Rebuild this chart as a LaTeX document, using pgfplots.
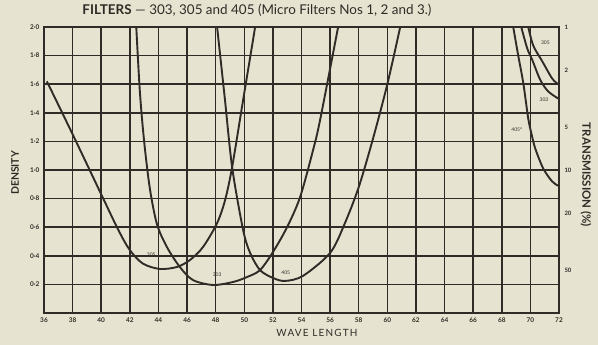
\documentclass[border=0pt]{standalone}
\usepackage{pgfplots}
\pgfplotsset{compat=1.18}
\usepackage{fontspec}
\setmainfont{Lato}
\definecolor{paper}{RGB}{231,227,209}
\definecolor{ink}{RGB}{48,43,38}
\tikzset{crv/.style={ink, line width=1.9bp, smooth, tension=0.5, mark=none}}
\begin{document}
\begin{tikzpicture}
\fill[paper] (0,0) rectangle (598bp,345bp);
\useasboundingbox (0,0) rectangle (598bp,345bp);
\begin{axis}[
  at={(44bp,32bp)}, anchor=south west,
  scale only axis, width=515bp, height=286bp,
  xmin=36, xmax=72, ymin=0, ymax=2,
  xtick={36,38,...,72},
  xticklabels={36,38,40,42,44,46,48,50,52,54,56,58,60,62,64,66,68,70,72},
  ytick={0.2,0.4,0.6,0.8,1.0,1.2,1.4,1.6,1.8,2.0},
  yticklabels={0·2,0·4,0·6,0·8,1·0,1·2,1·4,1·6,1·8,2·0},
  grid=major,
  major grid style={draw=ink, line width=1.5bp},
  axis line style={ink, line width=1.8bp},
  tick style={draw=none},
  ticklabel style={font=\fontsize{6.5}{7}\selectfont\bfseries, text=ink},
  xticklabel style={yshift=-1bp},
  yticklabel style={xshift=-1bp},
  clip mode=individual,
]
% 305
\addplot[crv] coordinates {(36.2,1.62) (38.0,1.25) (40.0,0.83) (41.2,0.58) (42.0,0.44) (42.92,0.345) (44.11,0.308) (45.30,0.322) (46.21,0.371) (47.12,0.462) (48.10,0.629) (48.66,0.79) (49.15,1.02) (49.92,1.49) (50.76,2.0)};
% 303
\addplot[crv] coordinates {(42.45,2.0) (42.7,1.55) (43.0,1.2) (43.4,0.87) (43.9,0.62) (44.60,0.46) (45.51,0.32) (46.42,0.23) (47.82,0.196) (49.22,0.217) (50.20,0.252) (51.10,0.30) (52.01,0.427) (52.99,0.60) (53.90,0.81) (54.81,1.14) (55.30,1.35) (56.56,2.0)};
% 405
\addplot[crv] coordinates {(48.10,2.0) (48.64,1.50) (49.15,1.02) (49.92,0.58) (50.41,0.42) (51.10,0.30) (52.01,0.245) (52.85,0.224) (54.11,0.26) (56.00,0.42) (57.0,0.62) (58.0,0.88) (59.0,1.22) (60.0,1.60) (60.9,2.0)};
% right side
\addplot[crv] coordinates {(68.80,2.0) (69.15,1.80) (69.50,1.61) (69.85,1.36) (70.06,1.26) (70.34,1.15) (70.90,1.01) (71.52,0.92) (71.94,0.89)};
\addplot[crv] coordinates {(69.36,2.0) (69.78,1.85) (70.13,1.77) (70.69,1.63) (71.24,1.55) (71.94,1.50)};
\addplot[crv] coordinates {(69.85,2.0) (70.20,1.87) (70.83,1.76) (71.52,1.64) (71.94,1.60)};
\node[font=\fontsize{5}{5}\selectfont, text=ink] at (axis cs:43.5,0.41) {305};
\node[font=\fontsize{5}{5}\selectfont, text=ink] at (axis cs:48.1,0.27) {303};
\node[font=\fontsize{5}{5}\selectfont, text=ink] at (axis cs:52.9,0.28) {405};
\node[font=\fontsize{5}{5}\selectfont, text=ink] at (axis cs:71.05,1.89) {305};
\node[font=\fontsize{5}{5}\selectfont, text=ink] at (axis cs:70.95,1.49) {303};
\node[font=\fontsize{5}{5}\selectfont, text=ink] at (axis cs:69.05,1.28) {405°};
\end{axis}
\begin{axis}[
  at={(44bp,32bp)}, anchor=south west,
  scale only axis, width=515bp, height=286bp,
  xmin=36, xmax=72, ymin=0, ymax=2,
  hide x axis, axis y line*=right,
  y axis line style={draw=none},
  tick style={draw=none},
  ytick={2,1.699,1.301,1,0.699,0.301},
  yticklabels={1,2,5,10,20,50},
  yticklabel style={font=\fontsize{6}{6}\selectfont\bfseries, text=ink, xshift=2bp},
]
\end{axis}
\node[text=ink, font=\fontsize{13.5}{14}\selectfont] at (257bp,335bp) {{\bfseries FILTERS} — 303, 305 and 405 (Micro Filters Nos 1, 2 and 3.)};
\node[text=ink, font=\fontsize{10}{11}\selectfont\addfontfeature{LetterSpace=12}] at (317bp,12bp) {WAVE LENGTH};
\node[text=ink, rotate=90, font=\fontsize{10.5}{11}\selectfont\bfseries] at (15bp,172bp) {DENSITY};
\node[text=ink, rotate=-90, font=\fontsize{11.5}{12}\selectfont\bfseries] at (586bp,170bp) {TRANSMISSION (\%)};
\end{tikzpicture}
\end{document}
